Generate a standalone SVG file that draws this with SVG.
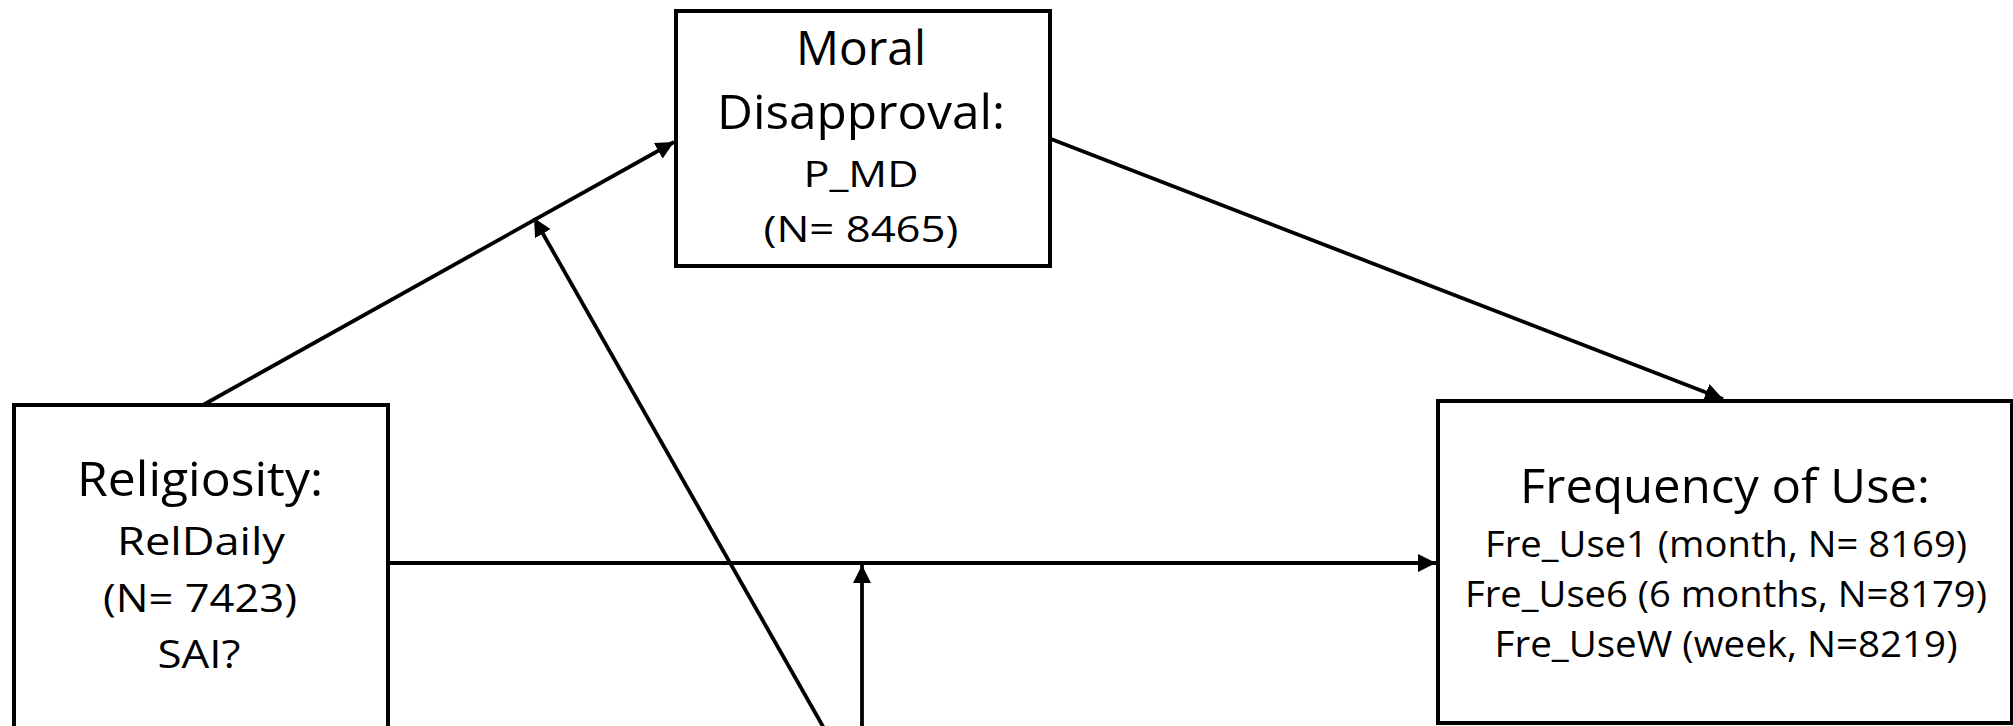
<svg xmlns="http://www.w3.org/2000/svg" width="2013" height="726" viewBox="0 0 2013 726">
  <style>
    .box { fill: #ffffff; stroke: #000000; stroke-width: 4; }
    .conn { fill: none; stroke: #000000; stroke-width: 3.8; }
    text { font-family: "Open Sans", "Liberation Sans", sans-serif; fill: #000000; text-anchor: middle; }
    .big { font-size: 47px; }
    .mid { font-size: 38px; }
    .sm { font-size: 36px; }
  </style>
  <defs>
    <marker id="arrow" viewBox="0 0 18 18" refX="18" refY="9" markerWidth="18" markerHeight="18" markerUnits="userSpaceOnUse" orient="auto">
      <path d="M0,0 L18,9 L0,18 z" fill="#000000"/>
    </marker>
  </defs>
  <rect x="0" y="0" width="2013" height="726" fill="#ffffff"/>

  <g id="connectors">
    <line class="conn" x1="203" y1="405" x2="674" y2="142" marker-end="url(#arrow)"/>
    <line class="conn" x1="1051" y1="139" x2="1723" y2="399" marker-end="url(#arrow)"/>
    <line class="conn" x1="390" y1="563" x2="1436" y2="563" marker-end="url(#arrow)"/>
    <line class="conn" x1="825" y1="730" x2="534" y2="218" marker-end="url(#arrow)"/>
    <line class="conn" x1="862" y1="730" x2="862" y2="565" marker-end="url(#arrow)"/>
  </g>

  <g id="node-moral">
    <rect class="box" x="676" y="11" width="374" height="255"/>
    <text class="big" x="861" y="65" textLength="130" lengthAdjust="spacingAndGlyphs">Moral</text>
    <text class="big" x="861" y="129" textLength="288" lengthAdjust="spacingAndGlyphs">Disapproval:</text>
    <text class="sm" x="861" y="187" textLength="115" lengthAdjust="spacingAndGlyphs">P_MD</text>
    <text class="sm" x="861" y="242" textLength="195" lengthAdjust="spacingAndGlyphs">(N= 8465)</text>
  </g>

  <g id="node-religiosity">
    <rect class="box" x="14" y="405" width="374" height="340"/>
    <text class="big" x="200" y="496" textLength="246" lengthAdjust="spacingAndGlyphs">Religiosity:</text>
    <text class="mid" x="201" y="555" textLength="168" lengthAdjust="spacingAndGlyphs">RelDaily</text>
    <text class="mid" x="200" y="612" textLength="194" lengthAdjust="spacingAndGlyphs">(N= 7423)</text>
    <text class="mid" x="199" y="668" textLength="83" lengthAdjust="spacingAndGlyphs">SAI?</text>
  </g>

  <g id="node-frequency">
    <rect class="box" x="1438" y="401" width="574" height="322"/>
    <text class="big" x="1725" y="503" textLength="410" lengthAdjust="spacingAndGlyphs">Frequency of Use:</text>
    <text class="sm" x="1726" y="557" textLength="482" lengthAdjust="spacingAndGlyphs">Fre_Use1 (month, N= 8169)</text>
    <text class="sm" x="1726" y="607" textLength="522" lengthAdjust="spacingAndGlyphs">Fre_Use6 (6 months, N=8179)</text>
    <text class="sm" x="1726" y="657" textLength="463" lengthAdjust="spacingAndGlyphs">Fre_UseW (week, N=8219)</text>
  </g>
</svg>
